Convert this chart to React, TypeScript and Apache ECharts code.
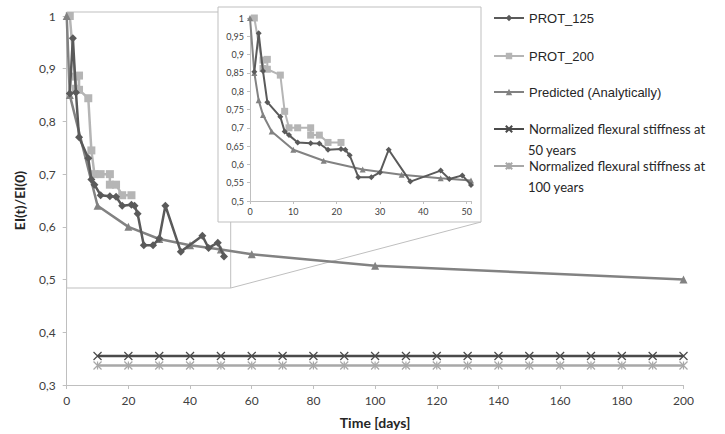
import React, { useEffect, useRef } from "react";
import * as echarts from "echarts";

// ---- data ----
const prot125Days = [1, 2, 3, 4, 7, 8, 9, 11, 14, 16, 18, 21, 22, 23, 25, 28, 30, 32, 37, 44, 46, 49, 51];
const prot125Vals = [0.853, 0.958, 0.855, 0.77, 0.73, 0.69, 0.68, 0.66, 0.658, 0.657, 0.64, 0.642, 0.64, 0.625, 0.565, 0.565, 0.578, 0.64, 0.553, 0.583, 0.56, 0.57, 0.544];

const prot200Days = [1, 3, 3, 4, 4, 7, 8, 9, 11, 14, 14, 16, 18, 21];
const prot200Vals = [1.0, 0.862, 0.885, 0.887, 0.86, 0.844, 0.745, 0.7, 0.7, 0.7, 0.68, 0.68, 0.66, 0.66];

const predMainDays = [0, 1, 10, 20, 30, 40, 50, 60, 100, 200];
const predMainVals = [1.0, 0.85, 0.64, 0.6, 0.577, 0.565, 0.557, 0.548, 0.526, 0.5];

const predInsetDays = [0, 1, 2, 3, 5, 10, 17, 26, 35, 44, 51];
const predInsetVals = [1.0, 0.85, 0.775, 0.735, 0.69, 0.64, 0.61, 0.586, 0.572, 0.562, 0.556];

const refDays = [10, 20, 30, 40, 50, 60, 70, 80, 90, 100, 110, 120, 130, 140, 150, 160, 170, 180, 190, 200];
const ref50Vals = [0.355, 0.355, 0.355, 0.355, 0.355, 0.355, 0.355, 0.355, 0.355, 0.355, 0.355, 0.355, 0.355, 0.355, 0.355, 0.355, 0.355, 0.355, 0.355, 0.355];
const ref100Vals = [0.337, 0.337, 0.337, 0.337, 0.337, 0.337, 0.337, 0.337, 0.337, 0.337, 0.337, 0.337, 0.337, 0.337, 0.337, 0.337, 0.337, 0.337, 0.337, 0.337];

const NAME_125 = "PROT_125";
const NAME_200 = "PROT_200";
const NAME_PRED = "Predicted (Analytically)";
const NAME_50 = "Normalized flexural stiffness at 50 years";
const NAME_100 = "Normalized flexural stiffness at 100 years";

const zip = (xs: number[], ys: number[]) => xs.map((x, i) => [x, ys[i]]);
const fmt = (v: number) => String(Math.round(v * 100) / 100).replace(".", ",");

const C125 = "#5a5a5a";
const C200 = "#b5b5b5";
const CPRED = "#828282";
const C50 = "#4a4a4a";
const C100 = "#a8a8a8";
const AXIS = "#bfbfbf";
const TXT = "#404040";

const X_SYM = "path://M0,0L10,10M10,0L0,10";
const STAR_SYM = "path://M0,0L10,10M10,0L0,10M5,0L5,10";

export default function App() {
  const ref = useRef<HTMLDivElement>(null);
  useEffect(() => {
    const chart = echarts.init(ref.current!, undefined, { renderer: "svg" });

    const lineSeries = (name: string, data: number[][], color: string, symbol: string, size: number, width: number, axis: number, z: number, extra: any = {}) => ({
      type: "line",
      name,
      data,
      xAxisIndex: axis,
      yAxisIndex: axis,
      symbol,
      symbolSize: size,
      showSymbol: true,
      z,
      lineStyle: { color, width },
      itemStyle: { color },
      emphasis: { disabled: true },
      ...extra,
    });

    const legendItem = (name: string, top: number, family: string, label?: string) => ({
      data: [name],
      left: 493,
      top,
      padding: 0,
      itemWidth: 30,
      itemHeight: 8,
      selectedMode: false,
      textStyle: { fontFamily: family, fontSize: 13, color: "#262626", lineHeight: 16 },
      formatter: label ? () => label : undefined,
    });

    chart.setOption({
      animation: false,
      backgroundColor: "#ffffff",
      grid: [
        { left: 66.7, right: 41.5, top: 16, bottom: 47 },
        { left: 250, right: 254, top: 18, bottom: 233, z: 10 },
      ],
      xAxis: [
        {
          type: "value",
          gridIndex: 0,
          min: 0,
          max: 200,
          interval: 20,
          name: "Time [days]",
          nameLocation: "middle",
          nameGap: 30,
          nameTextStyle: { fontFamily: "Lato", fontWeight: "bold", fontSize: 14, color: "#262626" },
          axisLine: { lineStyle: { color: AXIS, width: 1 } },
          axisTick: { length: 4, lineStyle: { color: AXIS } },
          axisLabel: { fontFamily: "Lato", fontSize: 12, color: TXT, margin: 9 },
          splitLine: { show: false },
        },
        {
          type: "value",
          gridIndex: 1,
          min: 0,
          max: 51,
          interval: 10,
          z: 10,
          axisLine: { lineStyle: { color: AXIS, width: 1 } },
          axisTick: { length: 3, lineStyle: { color: AXIS } },
          axisLabel: {
            fontFamily: "Lato",
            fontSize: 9,
            color: TXT,
            margin: 6,
            formatter: (v: number) => (v % 10 === 0 ? String(v) : ""),
          },
          splitLine: { show: false },
        },
      ],
      yAxis: [
        {
          type: "value",
          gridIndex: 0,
          min: 0.3,
          max: 1,
          interval: 0.1,
          name: "EI(t)/EI(0)",
          nameLocation: "middle",
          nameGap: 40,
          nameTextStyle: { fontFamily: "Lato", fontWeight: "bold", fontSize: 14, color: "#262626" },
          axisLine: { show: true, lineStyle: { color: AXIS, width: 1 } },
          axisTick: { show: true, length: 4, lineStyle: { color: AXIS } },
          axisLabel: { fontFamily: "Lato", fontSize: 12, color: TXT, margin: 11, formatter: fmt },
          splitLine: { show: false },
        },
        {
          type: "value",
          gridIndex: 1,
          min: 0.5,
          max: 1,
          interval: 0.05,
          z: 10,
          axisLine: { show: true, lineStyle: { color: AXIS, width: 1 } },
          axisTick: { show: true, length: 3, lineStyle: { color: AXIS } },
          axisLabel: { fontFamily: "Lato", fontSize: 9, color: TXT, margin: 6, formatter: fmt },
          splitLine: { show: false },
        },
      ],
      legend: [
        legendItem(NAME_125, 10, "Liberation Sans"),
        legendItem(NAME_200, 48, "Liberation Sans"),
        legendItem(NAME_PRED, 84, "Liberation Sans"),
        legendItem(NAME_50, 121, "Lato", "Normalized flexural stiffness at"),
        legendItem(NAME_100, 158, "Lato", "Normalized flexural stiffness at"),
      ],
      graphic: [
        {
          type: "rect",
          z: 1,
          silent: true,
          shape: { x: 66.7, y: 12, width: 164, height: 276 },
          style: { fill: "none", stroke: AXIS, lineWidth: 1 },
        },
        {
          type: "line",
          z: 1,
          silent: true,
          shape: { x1: 230.7, y1: 288, x2: 481, y2: 222 },
          style: { stroke: AXIS, lineWidth: 1 },
        },
        {
          type: "rect",
          z: 5,
          silent: true,
          shape: { x: 218, y: 7, width: 263, height: 215 },
          style: { fill: "#ffffff", stroke: AXIS, lineWidth: 1 },
        },
        {
          type: "text",
          z: 5,
          silent: true,
          x: 528,
          y: 150,
          style: { text: "50 years", font: "13px Lato", fill: "#262626", verticalAlign: "middle" },
        },
        {
          type: "text",
          z: 5,
          silent: true,
          x: 528,
          y: 187,
          style: { text: "100 years", font: "13px Lato", fill: "#262626", verticalAlign: "middle" },
        },
      ],
      series: [
        lineSeries(NAME_125, zip(prot125Days, prot125Vals), C125, "diamond", 8, 2.5, 0, 3),
        lineSeries(NAME_200, zip(prot200Days, prot200Vals), C200, "rect", 8, 2.5, 0, 2),
        lineSeries(NAME_PRED, zip(predMainDays, predMainVals), CPRED, "triangle", 8, 2.5, 0, 2),
        lineSeries(NAME_50, zip(refDays, ref50Vals), C50, X_SYM, 8, 2.5, 0, 2, {
          itemStyle: { color: "rgba(0,0,0,0)", borderColor: C50, borderWidth: 1.2 },
        }),
        lineSeries(NAME_100, zip(refDays, ref100Vals), C100, STAR_SYM, 8, 2.5, 0, 2, {
          itemStyle: { color: "rgba(0,0,0,0)", borderColor: C100, borderWidth: 1.2 },
        }),
        lineSeries(NAME_200, zip(prot200Days, prot200Vals), C200, "rect", 7, 2, 1, 10),
        lineSeries(NAME_PRED, zip(predInsetDays, predInsetVals), CPRED, "triangle", 6, 2, 1, 11),
        lineSeries(NAME_125, zip(prot125Days, prot125Vals), C125, "diamond", 6, 2, 1, 12),
      ],
    });
    return () => chart.dispose();
  }, []);
  return <div ref={ref} style={{ position: "fixed", left: 0, top: 0, width: 725, height: 434 }} />;
}
